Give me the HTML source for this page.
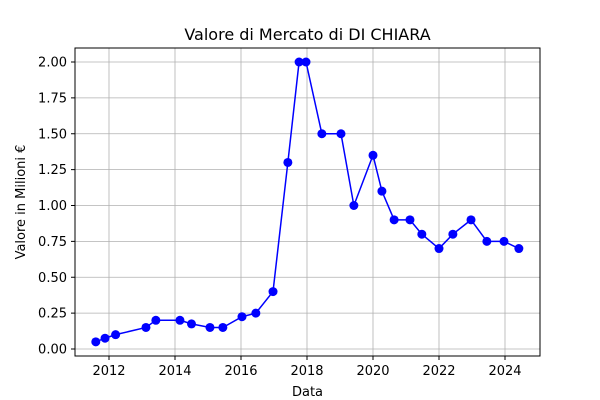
<!DOCTYPE html>
<html><head><meta charset="utf-8"><style>
body{margin:0;background:#fff;}
svg{display:block;font-family:"DejaVu Sans","Liberation Sans",sans-serif;}
</style></head><body>
<svg id="chart" width="600" height="400">
<rect width="600" height="400" fill="#fff"/>
<text x="307.5" y="40" font-size="16" text-anchor="middle">Valore di Mercato di DI CHIARA</text>
<text x="307.5" y="396" font-size="13" text-anchor="middle">Data</text>
<text transform="translate(25,202) rotate(-90)" font-size="13" text-anchor="middle">Valore in Milioni €</text>
<g id="grid"></g>
<g id="ticks"></g>
<g id="series"></g>
<rect x="75" y="48" width="465" height="308" fill="none" stroke="#000" stroke-width="1"/>
</svg>
<script>
const years = [2011.6,2011.88,2012.2,2013.12,2013.42,2014.15,2014.5,2015.06,2015.45,2016.03,2016.45,2016.97,2017.42,2017.76,2017.97,2018.45,2019.03,2019.42,2020.0,2020.27,2020.64,2021.12,2021.48,2022.0,2022.42,2022.97,2023.45,2023.97,2024.42];
const values = [0.05,0.075,0.10,0.15,0.20,0.20,0.175,0.15,0.15,0.225,0.25,0.40,1.30,2.00,2.00,1.50,1.50,1.00,1.35,1.10,0.90,0.90,0.80,0.70,0.80,0.90,0.75,0.75,0.70];
const xTicks = [2012,2014,2016,2018,2020,2022,2024];
const yTicks = [0,0.25,0.5,0.75,1.0,1.25,1.5,1.75,2.0];
const NS="http://www.w3.org/2000/svg";
function xs(v){return 109+(v-2012)*33;}
function ys(v){return 349-v*143.5;}
const grid=document.getElementById('grid'),ticks=document.getElementById('ticks'),ser=document.getElementById('series');
function mk(tag,attrs,parent){const e=document.createElementNS(NS,tag);for(const k in attrs)e.setAttribute(k,attrs[k]);parent.appendChild(e);return e;}
xTicks.forEach(t=>{const x=xs(t);
 const g=mk('line',{x1:x,x2:x,y1:48,y2:356,stroke:'#b0b0b0','stroke-width':0.8},grid);
 
 
 const tk=mk('line',{x1:x,x2:x,y1:356,y2:360,stroke:'#000'},ticks);
 
 
 const tx=mk('text',{x:x,y:375,'font-size':13,'text-anchor':'middle'},ticks);tx.textContent=t;
 
 
});
yTicks.forEach(t=>{const y=ys(t);
 const g=mk('line',{x1:75,x2:540,y1:y,y2:y,stroke:'#b0b0b0','stroke-width':0.8},grid);
 
 
 const tk=mk('line',{x1:71,x2:75,y1:y,y2:y,stroke:'#000'},ticks);
 
 
 const tx=mk('text',{x:67,y:y+4.5,'font-size':13,'text-anchor':'end'},ticks);tx.textContent=t.toFixed(2);
 
 
});
const pts=years.map((y,i)=>xs(y)+','+ys(values[i])).join(' ');
const pl=mk('polyline',{points:pts,fill:'none',stroke:'#0000ff','stroke-width':1.5},ser);


years.forEach((y,i)=>{const c=mk('circle',{cx:xs(y),cy:ys(values[i]),r:4.5,fill:'#0000ff'},ser);
 
 
});
</script>
</body></html>
